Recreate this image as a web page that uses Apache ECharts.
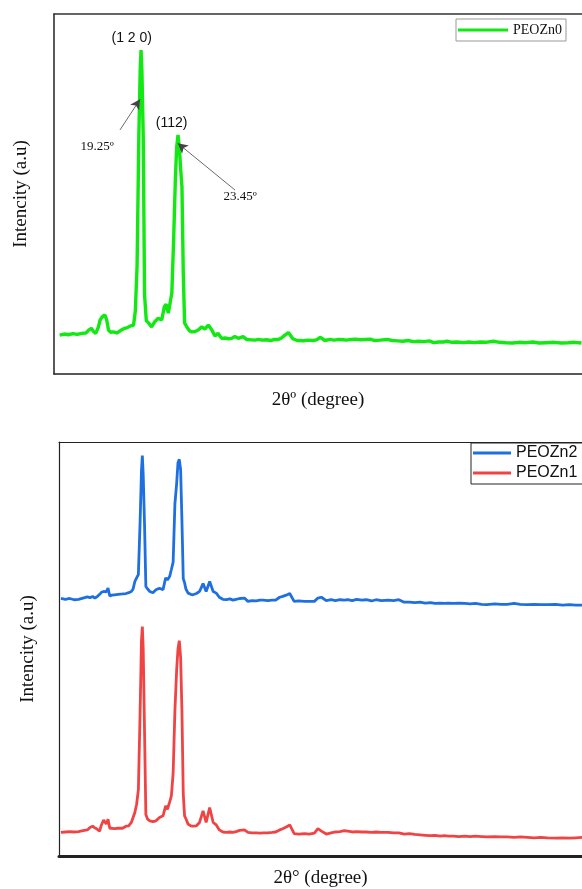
<!DOCTYPE html>
<html>
<head>
<meta charset="utf-8">
<script src="https://cdn.jsdelivr.net/npm/echarts@6/dist/echarts.min.js"></script>
<style>
html,body{margin:0;padding:0;background:#fff;}
#c{width:582px;height:889px;}
</style>
</head>
<body>
<div id="c"></div>
<script>
// 2θ (degree) sampling positions shared by all patterns
const twoTheta = [
  10,10.5,11,11.5,12,12.5,13,13.3,13.6,13.85,
  14.1,14.4,14.6,14.85,15.15,15.35,15.55,15.8,16.1,16.5,
  17,17.4,17.7,18,18.2,18.4,18.6,18.8,19.0,19.15,
  19.25,19.35,19.5,19.65,19.85,20.1,20.45,20.8,21.2,21.6,
  21.9,22.1,22.35,22.55,22.75,22.95,23.15,23.3,23.45,23.6,
  23.75,23.9,24.05,24.2,24.45,24.75,25,25.4,25.75,26.15,
  26.5,26.9,27.3,27.65,28,28.4,28.8,29.2,29.55,29.9,
  30.3,30.85,31.25,31.7,32.2,32.6,33,33.5,34,34.4,
  34.85,35.2,35.6,36,36.5,37,37.7,38.2,38.8,39.2,
  39.6,40.15,40.7,41.2,41.7,42.2,42.6,43.1,43.6,44.2,
  44.7,45.3,45.8,46.4,47.2,47.8,48.4,49,49.6,50.2,
  50.8,51.4,52,52.5,53.1,53.6,54,54.6,55.2,55.9,
  56.5,57.1,57.8,58.4,59.3,60,60.7,61.5,62.2,63,
  63.8,64.5,65.3,66.2,67,67.8,68.5,69.3
];

// Intensity (a.u.) – PEOZn0 (top panel)
const peoZn0 = [
  10.8,11.1,10.9,11.2,11.0,11.3,11.4,12.2,12.7,11.8,
  11.3,13.0,15.0,15.9,16.4,15.0,12.2,11.6,11.7,11.4,
  12.2,12.7,12.9,13.3,13.4,13.6,17.5,30,66,84,
  90,84,66,22,14.8,14.2,13.1,14.5,15.5,15.0,
  18.7,19.4,16.9,17.3,22.5,37,54,63,66.4,63,
  57,52,28,14.2,13.1,12.0,11.7,11.8,12.2,13.1,
  12.5,13.6,12.2,10.6,11.3,9.9,10.0,9.8,9.9,10.4,
  9.9,10.4,9.6,9.5,9.4,9.6,9.4,9.5,9.3,9.6,
  9.6,10.0,10.8,11.5,9.8,9.3,9.25,9.4,9.3,9.5,
  10.2,9.3,9.6,9.4,9.6,9.5,9.4,9.6,9.7,9.5,
  9.6,9.7,9.3,9.4,9.6,9.3,9.2,9.1,9.3,9.0,
  9.1,9.0,9.2,8.7,8.9,8.9,9.1,8.8,8.9,8.7,
  8.9,8.7,8.9,8.8,9.1,8.8,8.7,8.6,8.8,8.7,
  8.9,8.6,8.7,8.8,8.6,8.7,8.8,8.6
];

// Intensity (a.u., offset) – PEOZn2 (bottom panel, upper trace)
const peoZn2 = [
  62.2,62.0,62.2,61.9,62.0,62.3,62.6,62.4,62.7,62.3,
  62.6,63.2,63.7,63.9,63.8,64.7,62.8,63.0,63.1,63.2,
  63.3,63.4,63.6,63.9,64.5,66.3,67.2,68,81,93,
  96.7,92,80,65.1,64.5,63.9,63.6,64.3,64.7,64.3,
  67.2,66.7,67.5,69.2,71,85,90,95,95.8,93.3,
  81,67,66,64.5,63.5,63.2,63.1,63.4,63.9,65.8,
  63.9,66.3,63.9,63.5,62.5,62.0,61.9,62.1,61.8,62.0,
  62.2,62.3,61.5,61.7,61.6,61.8,61.8,61.7,61.8,61.8,
  62.5,62.7,63.0,63.4,61.5,61.6,61.5,61.5,61.5,62.3,
  62.5,61.7,61.9,61.7,61.9,61.8,61.9,61.7,62.0,61.8,
  61.9,61.6,61.9,61.7,61.8,61.7,61.9,61.3,61.3,61.2,
  61.3,61.1,61.2,61.0,61.1,61.0,61.1,61.0,61.1,61.0,
  60.9,61.0,60.8,60.7,60.9,60.8,60.8,61.0,60.8,60.7,
  60.8,60.7,60.7,60.8,60.6,60.7,60.6,60.6
];

// Intensity (a.u.) – PEOZn1 (bottom panel, lower trace)
const peoZn1 = [
  5.7,5.8,5.9,5.8,5.9,6.1,6.3,6.9,7.2,6.8,
  6.5,6.0,7.5,8.7,7.7,8.9,6.7,6.7,6.6,6.7,
  6.7,7.2,7.3,8.1,8.1,10.5,12.5,16,35,52,
  55.4,50,30,10,8.9,8.5,8.3,8.5,9.3,9.7,
  12.1,11.3,13,14.5,20,35,45,50,52,48,
  35,15,9.7,9.0,7.7,7.3,7.2,7.3,8.1,10.9,
  8.1,11.7,8.1,7.5,6.3,5.8,5.7,5.8,5.7,5.9,
  6.2,6.3,5.7,5.6,5.6,5.5,5.6,5.6,5.7,5.8,
  6.3,6.6,7.0,7.5,5.4,5.3,5.4,5.3,5.5,6.6,
  6.0,5.3,5.6,5.8,5.9,6.1,6.0,5.8,5.9,5.8,
  5.8,5.7,5.8,5.7,5.7,5.6,5.6,5.3,5.4,5.2,
  5.1,5.0,4.9,5.0,4.8,4.9,4.8,4.8,4.7,4.8,
  4.7,4.8,4.7,4.6,4.7,4.6,4.6,4.5,4.6,4.5,
  4.4,4.5,4.4,4.3,4.4,4.3,4.4,4.5
];

const seriesNames = ['PEOZn0', 'PEOZn2', 'PEOZn1'];
const peakLabels = ['(1 2 0)', '(112)'];
const angleLabels = ['19.25º', '23.45º'];
const xTitles = ['2θº (degree)', '2θ° (degree)'];
const yTitle = 'Intencity (a.u)';

const pairs = arr => twoTheta.map((x, i) => [x, arr[i]]);

const serif = 'Liberation Serif';
const sans = 'Liberation Sans';

const hiddenAxisBits = {
  axisTick: { show: false },
  axisLabel: { show: false },
  splitLine: { show: false }
};

const chart = echarts.init(document.getElementById('c'), null, { renderer: 'canvas' });

const topRange = { min: 9.36, max: 69.36 };
const botRange = { min: 9.78, max: 69.21 };

const option = {
  animation: false,
  backgroundColor: '#fff',
  grid: [
    { left: 54, top: 14, right: 0, height: 360 },
    { left: 59, top: 442, right: 0, height: 415 }
  ],
  xAxis: [
    Object.assign({
      gridIndex: 0, type: 'value', min: topRange.min, max: topRange.max, position: 'bottom',
      axisLine: { show: true, lineStyle: { color: '#222', width: 1.5 } },
      name: xTitles[0], nameLocation: 'middle', nameGap: 17,
      nameTextStyle: { fontFamily: serif, fontSize: 19, color: '#111', padding: [0, 0, 0, 0] }
    }, hiddenAxisBits),
    Object.assign({
      gridIndex: 1, type: 'value', min: botRange.min, max: botRange.max, position: 'bottom',
      axisLine: { show: true, lineStyle: { color: '#222', width: 3 } },
      name: xTitles[1], nameLocation: 'middle', nameGap: 13,
      nameTextStyle: { fontFamily: serif, fontSize: 19, color: '#111' }
    }, hiddenAxisBits),
    Object.assign({
      gridIndex: 0, type: 'value', min: topRange.min, max: topRange.max, position: 'top',
      axisLine: { show: true, lineStyle: { color: '#333', width: 1.5 } }
    }, hiddenAxisBits),
    Object.assign({
      gridIndex: 1, type: 'value', min: botRange.min, max: botRange.max, position: 'top',
      axisLine: { show: true, lineStyle: { color: '#222', width: 1.2 } }
    }, hiddenAxisBits)
  ],
  yAxis: [
    Object.assign({
      gridIndex: 0, type: 'value', min: 0, max: 100,
      axisLine: { show: true, lineStyle: { color: '#222', width: 1.5 } },
      name: yTitle, nameLocation: 'middle', nameGap: 23,
      nameTextStyle: { fontFamily: serif, fontSize: 19, color: '#111' }
    }, hiddenAxisBits),
    Object.assign({
      gridIndex: 1, type: 'value', min: 0, max: 100,
      axisLine: { show: true, lineStyle: { color: '#222', width: 1.2 } },
      name: yTitle, nameLocation: 'middle', nameGap: 21,
      nameTextStyle: { fontFamily: serif, fontSize: 19, color: '#111' }
    }, hiddenAxisBits)
  ],
  legend: [
    {
      data: [seriesNames[0]], left: 456, top: 19, orient: 'horizontal',
      icon: 'rect', itemWidth: 50, itemHeight: 3,
      padding: [4, 4, 4, 2], borderColor: '#999', borderWidth: 1,
      textStyle: { fontFamily: serif, fontSize: 14, color: '#111' }
    },
    {
      data: [seriesNames[1], seriesNames[2]], left: 471, top: 443, orient: 'vertical',
      icon: 'rect', itemWidth: 38, itemHeight: 3, itemGap: 2,
      padding: [1, 20, 2, 2], borderColor: '#222', borderWidth: 1,
      textStyle: { fontFamily: sans, fontSize: 16, color: '#111', lineHeight: 18 }
    }
  ],
  series: [
    {
      name: seriesNames[0], type: 'line', xAxisIndex: 0, yAxisIndex: 0,
      data: pairs(peoZn0), symbol: 'none', showSymbol: false,
      lineStyle: { color: '#12e812', width: 3.4 }, itemStyle: { color: '#12e812' },
      z: 3,
      markLine: {
        silent: true, symbol: ['none', 'arrow'], symbolSize: [8, 10],
        label: { show: false },
        lineStyle: { color: '#444', width: 0.8, type: 'solid' },
        data: [
          [{ coord: [16.86, 67.8] }, { coord: [19.14, 76.3] }],
          [{ coord: [29.93, 51.1] }, { coord: [23.42, 64.1] }]
        ]
      },
      markPoint: {
        silent: true, symbol: 'circle', symbolSize: 0,
        data: [
          { coord: [18.19, 93.3], label: { formatter: peakLabels[0], fontFamily: sans, fontSize: 14 } },
          { coord: [22.72, 69.7], label: { formatter: peakLabels[1], fontFamily: sans, fontSize: 14 } },
          { coord: [14.25, 63.3], label: { formatter: angleLabels[0], fontFamily: serif, fontSize: 13 } },
          { coord: [30.5, 49.4], label: { formatter: angleLabels[1], fontFamily: serif, fontSize: 13 } }
        ],
        label: { show: true, position: 'inside', color: '#111' }
      }
    },
    {
      name: seriesNames[1], type: 'line', xAxisIndex: 1, yAxisIndex: 1,
      data: pairs(peoZn2), symbol: 'none', showSymbol: false,
      lineStyle: { color: '#1e6fe0', width: 2.8 }, itemStyle: { color: '#1e6fe0' }
    },
    {
      name: seriesNames[2], type: 'line', xAxisIndex: 1, yAxisIndex: 1,
      data: pairs(peoZn1), symbol: 'none', showSymbol: false,
      lineStyle: { color: '#f04444', width: 2.8 }, itemStyle: { color: '#f04444' }
    }
  ]
};

chart.setOption(option);
</script>
</body>
</html>
